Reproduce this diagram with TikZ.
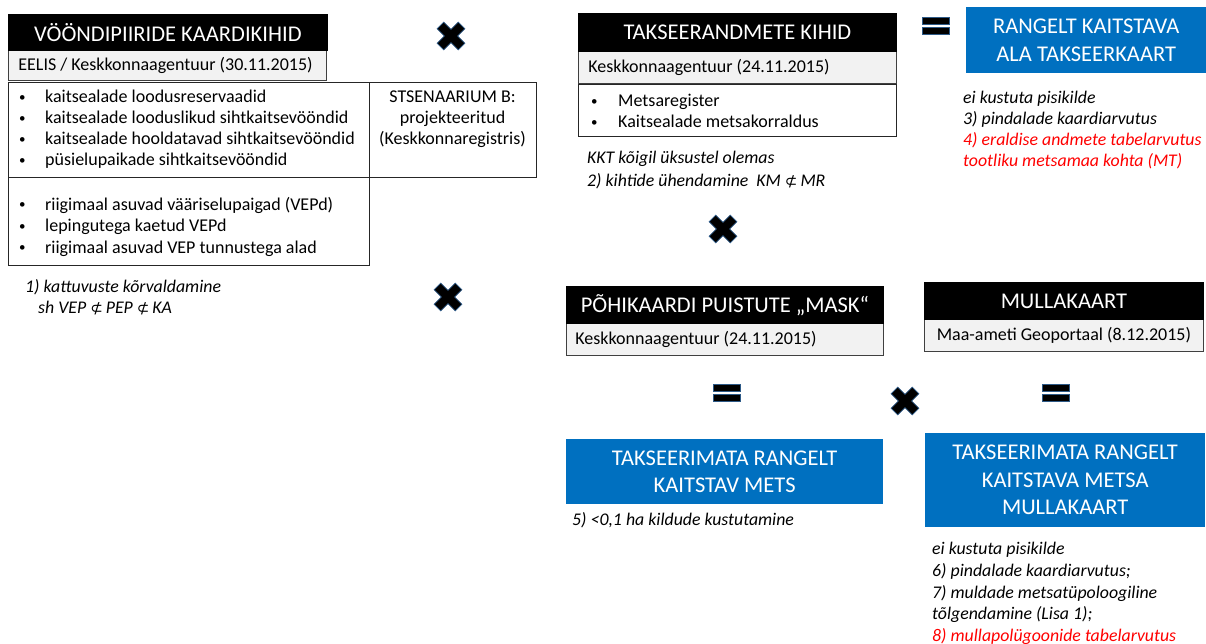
\documentclass[tikz,border=0pt]{standalone}
\usepackage{fontspec}
\setmainfont{Carlito}
\newfontfamily\symfont{DejaVu Sans}
\definecolor{pblue}{HTML}{0070C0}
\definecolor{subgray}{HTML}{F2F2F2}
\definecolor{pred}{HTML}{FF0000}
\definecolor{xedge}{HTML}{2E5A87}
\newcommand{\bul}[1]{\makebox[#1][l]{\raisebox{1.2bp}{\fontsize{13bp}{13bp}\selectfont\textbullet}}}
\newcommand{\nsub}{{\upshape\symfont\fontsize{15bp}{15bp}\selectfont ⊄}}
\begin{document}
\begin{tikzpicture}[x=1bp,y=-1bp,
  hdr/.style={fill=black, text=white, draw=black, line width=0.8bp, inner sep=0, anchor=north west, font=\fontsize{22.5bp}{27bp}\selectfont},
  src/.style={fill=subgray, draw=black!75, line width=0.8bp, inner ysep=0, inner xsep=10bp, anchor=north west, font=\fontsize{18bp}{21bp}\selectfont},
  frame/.style={draw=black!85, line width=0.9bp, inner sep=0, anchor=north west},
  result/.style={fill=pblue, text=white, inner sep=0, anchor=north west, align=center, font=\fontsize{22.5bp}{27.5bp}\selectfont},
  listtext/.style={font=\fontsize{18bp}{21bp}\selectfont, inner sep=0, anchor=west, align=left},
  note/.style={font=\fontsize{17.8bp}{21.3bp}\selectfont\itshape, inner sep=0, anchor=west, align=left},
  xmark/.pic={\filldraw[fill=black, draw=xedge, line width=0.7bp, rotate=45]
     (4.7,15) -- (-4.7,15) -- (-4.7,4.7) -- (-15,4.7) -- (-15,-4.7) -- (-4.7,-4.7) -- (-4.7,-15)
     -- (4.7,-15) -- (4.7,-4.7) -- (15,-4.7) -- (15,4.7) -- (4.7,4.7) -- cycle;},
  eqmark/.pic={\filldraw[fill=black, draw=xedge, line width=0.8bp]
     (-13.5,-8.3) rectangle (13.5,-1.8) (-13.5,1.8) rectangle (13.5,8.3);}
]
\useasboundingbox (0,0) rectangle (1206,644);

% ---- Group 1: VÖÖNDIPIIRIDE KAARDIKIHID
\node[src, minimum height=30bp] (s1) at (8,50) {\makebox[298bp][l]{EELIS / Keskkonnaagentuur (30.11.2015)}};
\node[hdr, minimum width=319bp, minimum height=36bp] (h1) at (8,14) {VÖÖNDIPIIRIDE KAARDIKIHID};
\node[frame, minimum width=361bp, minimum height=95bp] (l1) at (8,82) {};
\node[frame, minimum width=167bp, minimum height=95bp] (sts) at (369,82) {};
\node[frame, minimum width=361bp, minimum height=88bp] (l2) at (8,177) {};
\node[listtext] (l1t) at (19,129.5) {\bul{26bp}kaitsealade loodusreservaadid\\
  \bul{26bp}kaitsealade looduslikud sihtkaitsevööndid\\
  \bul{26bp}kaitsealade hooldatavad sihtkaitsevööndid\\
  \bul{26bp}püsielupaikade sihtkaitsevööndid};
\node[listtext, align=center, anchor=center] (stst) at (452.5,119) {STSENAARIUM B:\\projekteeritud\\(Keskkonnaregistris)};
\node[listtext, font=\fontsize{18bp}{21.5bp}\selectfont] (l2t) at (19,226.5) {\bul{26bp}riigimaal asuvad vääriselupaigad (VEPd)\\
  \bul{26bp}lepingutega kaetud VEPd\\
  \bul{26bp}riigimaal asuvad VEP tunnustega alad};
\node[note, font=\fontsize{17.8bp}{20.5bp}\selectfont\itshape] (n1) at (25,297) {1) kattuvuste kõrvaldamine\\
  \hspace*{13bp}sh VEP \nsub\,PEP \nsub\,KA};

% ---- Group 2: TAKSEERANDMETE KIHID
\node[src, minimum height=32bp] (s2) at (578,51) {\makebox[298bp][l]{Keskkonnaagentuur (24.11.2015)}};
\node[hdr, minimum width=318bp, minimum height=38bp] (h2) at (578,13) {TAKSEERANDMETE KIHID};
\node[frame, minimum width=318bp, minimum height=52bp] (lb) at (578,84) {};
\node[listtext] (lbt) at (591,111) {\bul{27bp}Metsaregister\\
  \bul{27bp}Kaitsealade metsakorraldus};
\node[note, font=\fontsize{17.8bp}{23bp}\selectfont\itshape] (n2) at (587,170) {KKT kõigil üksustel olemas\\
  2) kihtide ühendamine\hspace{8bp}KM \nsub\,MR};

% ---- Result 1
\node[result, minimum width=240bp, minimum height=66bp] (b1) at (966,7) {RANGELT KAITSTAVA\\ALA TAKSEERKAART};
\node[note] (n3) at (963,130) {ei kustuta pisikilde\\
  3) pindalade kaardiarvutus\\
  \textcolor{pred}{4) eraldise andmete tabelarvutus}\\
  \textcolor{pred}{tootliku metsamaa kohta (MT)}};

% ---- Group 3: PÕHIKAARDI PUISTUTE MASK
\node[src, minimum height=32bp, inner xsep=9bp] (s3) at (566,323) {\makebox[299bp][l]{Keskkonnaagentuur (24.11.2015)}};
\node[hdr, minimum width=317bp, minimum height=37bp] (h3) at (566,286) {PÕHIKAARDI PUISTUTE „MASK“};

% ---- Group 4: MULLAKAART
\node[src, minimum height=32bp] (s4) at (924,319) {\makebox[259bp][c]{Maa-ameti Geoportaal (8.12.2015)}};
\node[hdr, minimum width=279bp, minimum height=37bp] (h4) at (924,282) {MULLAKAART};

% ---- Results 2 and 3
\node[result, minimum width=317bp, minimum height=65bp] (b2) at (566,439) {TAKSEERIMATA RANGELT\\KAITSTAV METS};
\node[note] (n4) at (572,520) {5) <0,1 ha kildude kustutamine};
\node[result, minimum width=280bp, minimum height=94bp] (b3) at (925,433) {TAKSEERIMATA RANGELT\\KAITSTAVA METSA\\MULLAKAART};
\node[note, font=\fontsize{17.8bp}{21.75bp}\selectfont\itshape] (n5) at (932,593.5) {ei kustuta pisikilde\\
  6) pindalade kaardiarvutus;\\
  7) muldade metsatüpoloogiline\\
  tõlgendamine (Lisa 1);\\
  \textcolor{pred}{8) mullapolügoonide tabelarvutus}};

% ---- operators
\pic at (451,36) {xmark};
\pic at (723,229) {xmark};
\pic at (448,297) {xmark};
\pic at (905,401) {xmark};
\pic at (936,26) {eqmark};
\pic at (727,393) {eqmark};
\pic at (1056,393) {eqmark};
\end{tikzpicture}
\end{document}
